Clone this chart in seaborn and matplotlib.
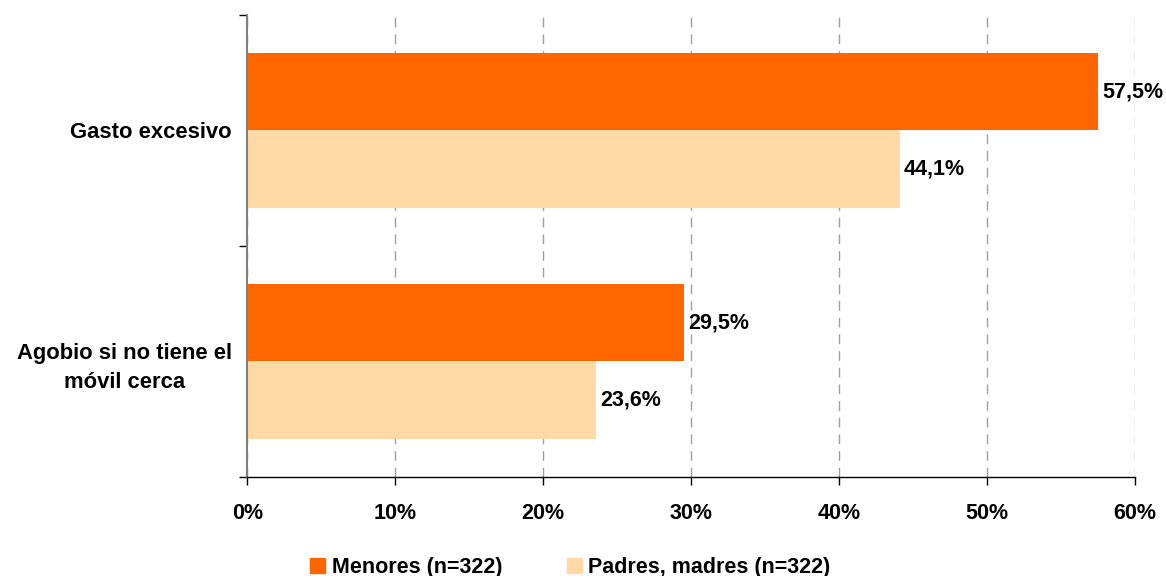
import pandas as pd
import matplotlib.pyplot as plt
import seaborn as sns
from matplotlib.ticker import FixedLocator, PercentFormatter

categories = ["Gasto excesivo", "Agobio si no tiene el\nmóvil cerca"]
series = ["Menores (n=322)", "Padres, madres (n=322)"]
menores = [57.5, 29.5]
padres = [44.1, 23.6]
colors = ["#FF6600", "#FFDAA6"]

def main():
    df = pd.DataFrame({
        "categoria": categories * 2,
        "grupo": [series[0]] * 2 + [series[1]] * 2,
        "valor": menores + padres,
    })

    sns.set_style("white")
    plt.rcParams["font.family"] = ["Liberation Sans", "DejaVu Sans"]
    plt.rcParams["text.color"] = "black"
    plt.rcParams["xtick.color"] = "black"
    plt.rcParams["ytick.color"] = "black"

    fig = plt.figure(figsize=(11.66, 5.76), dpi=100)
    ax = fig.add_axes([0.212, 0.172, 0.7614, 0.802])
    sns.barplot(data=df, x="valor", y="categoria", hue="grupo", order=categories,
                hue_order=series, palette=colors, width=0.67, saturation=1,
                edgecolor="none", ax=ax)

    ax.set_xlim(0, 60)
    ax.set_ylim(1.5, -0.5)
    ax.xaxis.set_major_locator(FixedLocator(range(0, 61, 10)))
    ax.xaxis.set_major_formatter(PercentFormatter(decimals=0))
    ax.grid(axis="x", linestyle=(0, (7, 5)), color="#A0A0A0", linewidth=1)
    ax.set_axisbelow(True)

    # tick marks at category boundaries, labels at centres
    ax.yaxis.set_major_locator(FixedLocator([-0.5, 0.5, 1.5]))
    ax.yaxis.set_major_formatter(plt.NullFormatter())
    ax.yaxis.set_minor_locator(FixedLocator([0, 1]))
    ax.set_yticklabels(categories, minor=True, fontsize=15.8, fontweight="bold",
                       multialignment="center", linespacing=1.5, color="black")
    ax.tick_params(axis="y", which="major", direction="out", length=6, width=1,
                   color="black", left=True)
    ax.tick_params(axis="y", which="minor", length=0, pad=11)
    ax.tick_params(axis="x", direction="out", length=6, width=1, color="black",
                   bottom=True, labelsize=15.5, pad=13, labelcolor="black")
    for lab in ax.get_xticklabels():
        lab.set_fontweight("bold")

    for s in ["top", "right"]:
        ax.spines[s].set_visible(False)
    ax.spines["left"].set_color("#808080")
    ax.spines["left"].set_linewidth(1.5)
    ax.spines["bottom"].set_color("black")
    ax.spines["bottom"].set_linewidth(1)

    for cont in ax.containers:
        ax.bar_label(cont, labels=[f"{v:.1f}%".replace(".", ",") for v in cont.datavalues],
                     padding=3, fontsize=15.5, fontweight="bold", color="black")

    ax.set_xlabel("")
    ax.set_ylabel("")
    ax.legend_.remove()
    handles = [plt.Rectangle((0, 0), 1, 1, color=c) for c in colors]
    fig.legend(handles, series, loc="lower center", bbox_to_anchor=(0.489, -0.037),
               ncol=2, frameon=False, prop={"size": 15.5, "weight": "bold"},
               handlelength=0.7, handleheight=0.7, handletextpad=0.3, columnspacing=3.0,
               labelcolor="black")

    fig.savefig("out.png", dpi=100)
    plt.close(fig)

if __name__ == "__main__":
    main()
